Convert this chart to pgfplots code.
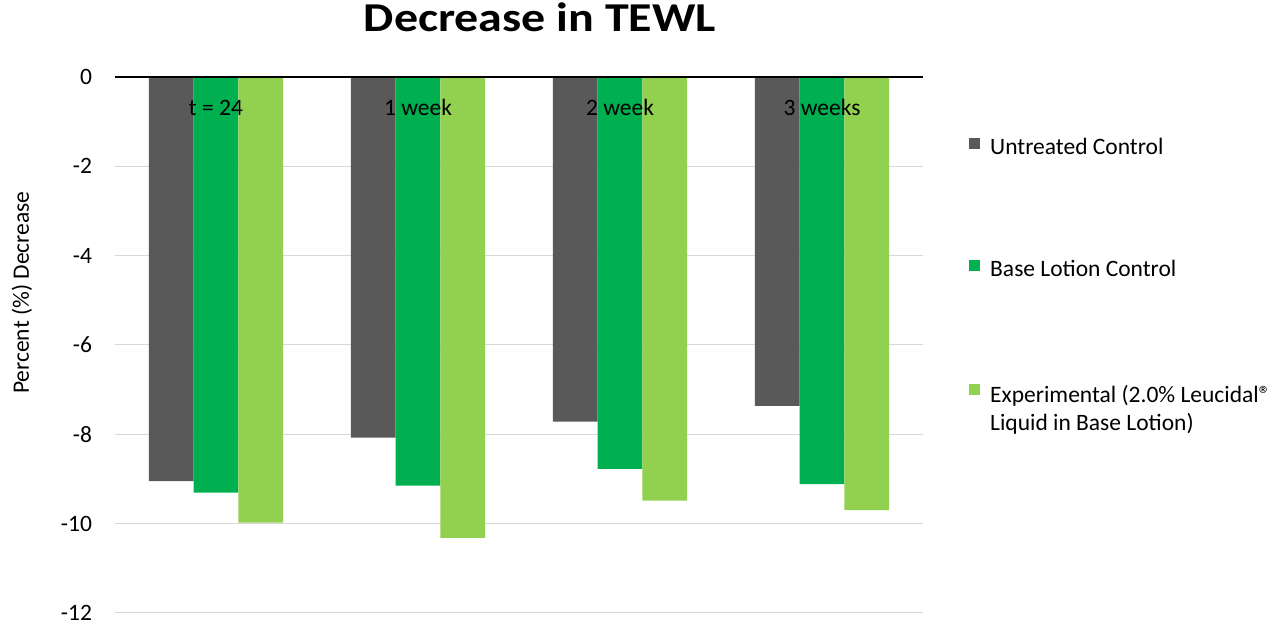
\documentclass[border=0pt]{standalone}
\usepackage{graphicx}
\usepackage{pgfplots}
\pgfplotsset{compat=1.18}
\usepackage{fontspec}
\setmainfont{Carlito}
\definecolor{cgray}{HTML}{595959}
\definecolor{cgreen}{HTML}{00B050}
\definecolor{clight}{HTML}{92D050}
\definecolor{cgrid}{HTML}{D9D9D9}

\pgfplotsset{
  tewl/.style={
    scale only axis,
    width=808pt, height=536pt,
    xmin=-0.5, xmax=3.5,
    ymin=-12, ymax=0,
  },
}

\begin{document}
\fontsize{23.5pt}{28pt}\selectfont
\begin{tikzpicture}
% bars, grid, y axis, title, legend
\begin{axis}[
    tewl,
    ybar=0pt, bar width=44.8pt,
    xtick=\empty,
    axis line style={draw=none},
    ytick style={draw=none},
    ytick={-12,-10,...,0},
    ymajorgrids,
    major grid style={cgrid, line width=1.2pt},
    yticklabel style={xshift=-15pt},
    /pgf/number format/assume math mode=true,
    ylabel={Percent (\%) Decrease},
    ylabel style={at={(rel axis cs:0,0.597)}, anchor=center, yshift=93pt},
    title={\scalebox{1.17}[1]{\fontsize{41pt}{48pt}\selectfont\bfseries Decrease in TEWL}},
    title style={at={(rel axis cs:0.526,1)}, anchor=center, yshift=53.8pt, inner sep=0pt},
    legend style={at={(rel axis cs:1,1)}, anchor=north west,
        xshift=46pt, yshift=-59pt, draw=none, fill=none,
        row sep=98pt, column sep=8pt, inner sep=0pt},
    legend cell align=left,
    legend image code/.code={\path[#1, draw=none] (0pt,-1pt) rectangle (11pt,10pt);},
    clip=false,
]
\addplot[fill=cgray, draw=none] coordinates {(0,-9.05) (1,-8.08) (2,-7.72) (3,-7.37)};
\addlegendentry{Untreated Control}
\addplot[fill=cgreen, draw=none] coordinates {(0,-9.31) (1,-9.15) (2,-8.78) (3,-9.12)};
\addlegendentry{Base Lotion Control}
\addplot[fill=clight, draw=none] coordinates {(0,-9.98) (1,-10.32) (2,-9.49) (3,-9.70)};
\addlegendentry{\begin{tabular}[t]{@{}l@{}}\rule{0pt}{21pt}Experimental (2.0\% Leucidal®\\Liquid in Base Lotion)\end{tabular}}
\coordinate (bl) at (rel axis cs:0,0);
\coordinate (tr) at (rel axis cs:1,1);
\end{axis}
% zero line and category labels, drawn over the bars
\begin{axis}[
    tewl,
    axis x line*=top, axis y line=none,
    x axis line style={black, line width=2pt},
    xtick={0,1,2,3},
    xticklabels={t = 24, 1 week, 2 week, 3 weeks},
    xtick style={draw=none},
    ytick=\empty,
    xticklabel style={anchor=center, yshift=-31pt},
]
\end{axis}
\path ([xshift=-115pt,yshift=-14.4pt]bl) rectangle ([xshift=365pt,yshift=76.8pt]tr);
\end{tikzpicture}
\end{document}
